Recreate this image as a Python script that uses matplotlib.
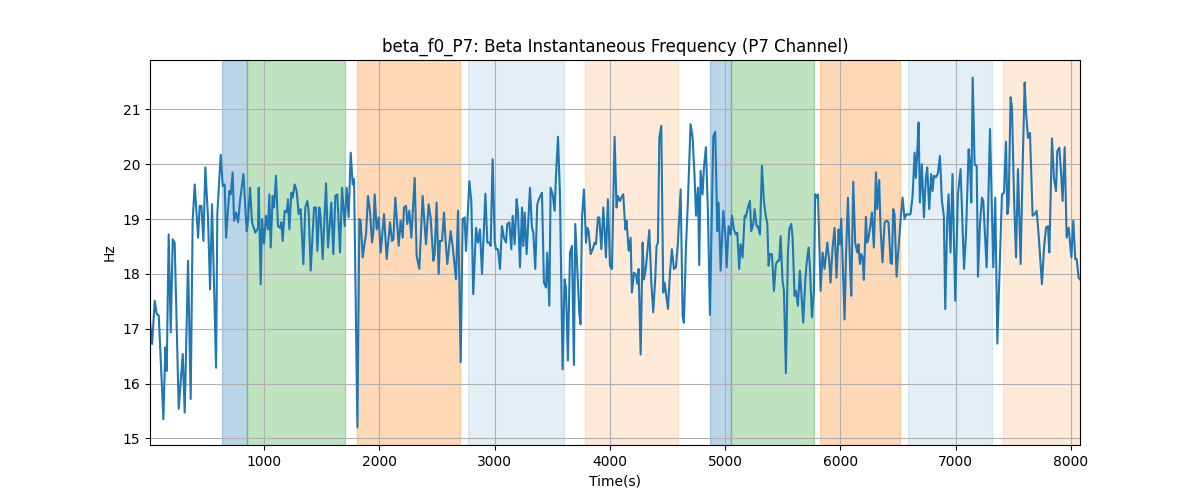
import matplotlib
matplotlib.use("Agg")
import matplotlib.pyplot as plt
import numpy as np

time_s = [
    11, 29, 52, 69, 87, 104, 127, 144, 156, 173, 191, 208, 225, 260, 295, 312, 341, 364, 381, 399,
    428, 442, 457, 474, 491, 514, 532, 549, 584, 595, 624, 642, 659, 671, 699, 711, 728, 740, 757, 775,
    792, 821, 850, 861, 879, 896, 925, 948, 954, 971, 983, 1000,
    1017, 1035, 1046, 1058, 1075, 1087, 1104, 1121, 1139, 1150, 1162, 1179, 1197, 1208, 1220, 1237, 1249, 1266,
    1283, 1301, 1318, 1341, 1358, 1376, 1387, 1405, 1434, 1451, 1463, 1480, 1491, 1509, 1538, 1555, 1584, 1601,
    1619, 1636, 1659, 1677, 1700, 1717, 1734, 1752, 1769, 1781, 1810, 1827, 1838, 1856, 1873, 1885, 1902, 1919,
    1937, 1948, 1960, 1977, 1995, 2012,
    2041, 2064, 2093, 2110, 2122, 2139, 2168, 2185, 2203, 2214, 2232, 2243, 2260, 2278, 2307, 2324, 2347, 2376,
    2405, 2428, 2445, 2469, 2480, 2497, 2515, 2526, 2544, 2561, 2573, 2590, 2619, 2636, 2665, 2683, 2706, 2723,
    2740, 2752, 2781, 2798, 2815, 2839, 2856, 2873, 2891, 2920, 2937, 2954, 2966, 2983, 3001, 3012,
    3029, 3047, 3064, 3081, 3099, 3110, 3128, 3145, 3157, 3174, 3191, 3203, 3220, 3238, 3249, 3261, 3278, 3307,
    3324, 3336, 3353, 3370, 3390, 3411, 3428, 3446, 3457, 3475, 3486, 3504, 3521, 3532, 3550, 3567, 3590, 3607,
    3619, 3636, 3654, 3671, 3688, 3700, 3717, 3735, 3746, 3758, 3775, 3793, 3804, 3816, 3833, 3851, 3868, 3879,
    3897, 3908, 3926, 3943, 3966, 3983, 4001, 4018, 4041,
    4058, 4070, 4087, 4099, 4116, 4134, 4145, 4163, 4180, 4191, 4209, 4226, 4238, 4249, 4267, 4284, 4296, 4313,
    4342, 4359, 4376, 4394, 4405, 4417, 4429, 4446, 4463, 4475, 4486, 4504, 4521, 4538, 4556, 4573, 4590, 4614,
    4631, 4642, 4660, 4677, 4700, 4718, 4735, 4747, 4764, 4775, 4787, 4804, 4816, 4833, 4851, 4868, 4885, 4897,
    4914, 4932, 4943, 4961, 4984, 5001, 5013, 5030,
    5047, 5059, 5076, 5093, 5105, 5122, 5134, 5151, 5169, 5180, 5197, 5215, 5226, 5244, 5255, 5273, 5284, 5302,
    5319, 5336, 5354, 5365, 5377, 5388, 5406, 5423, 5440, 5458, 5469, 5481, 5498, 5510, 5527, 5544, 5556, 5573,
    5585, 5602, 5614, 5631, 5648, 5660, 5677, 5695, 5706, 5724, 5735, 5753, 5770, 5781, 5793, 5805, 5828, 5845,
    5862, 5886, 5903, 5914, 5932, 5949, 5966, 5984, 5995, 6007, 6024, 6036,
    6047, 6065, 6082, 6094, 6111, 6128, 6146, 6157, 6169, 6180, 6192, 6203, 6221, 6232, 6244, 6261, 6273, 6290,
    6308, 6319, 6336, 6348, 6365, 6383, 6400, 6417, 6435, 6446, 6458, 6469, 6487, 6504, 6521, 6539, 6556, 6573,
    6591, 6608, 6626, 6643, 6654, 6666, 6678, 6689, 6706, 6724, 6741, 6753, 6770, 6787, 6799, 6811, 6828, 6845,
    6863, 6880, 6897, 6909, 6926, 6938, 6955, 6972, 6996, 7019, 7042,
    7072, 7089, 7112, 7124, 7135, 7147, 7164, 7182, 7193, 7210, 7228, 7239, 7268, 7280, 7297, 7315, 7326, 7343,
    7361, 7378, 7401, 7419, 7436, 7448, 7459, 7476, 7488, 7505, 7523, 7540, 7563, 7581, 7598, 7609, 7627, 7644,
    7656, 7667, 7685, 7702, 7719, 7748, 7766, 7783, 7800, 7812, 7835, 7852, 7870, 7881, 7899, 7916, 7927, 7945,
    7962, 7980, 8003, 8020, 8037, 8049, 8066, 8078,
]

beta_hz = [
    17.14, 16.72, 17.51, 17.27, 17.24, 16.42, 15.35, 16.66, 16.23, 18.72, 16.93, 18.63, 18.57, 15.54, 16.54, 15.47, 18.24, 15.72, 18.97, 19.63,
    18.66, 19.24, 19.24, 18.60, 19.94, 19.03, 17.72, 19.27, 16.29, 19.09, 20.17, 19.60, 19.63, 18.66, 19.51, 19.45, 19.85, 18.97, 19.12, 18.94,
    19.33, 19.82, 18.78, 18.97, 19.57, 18.94, 18.75, 18.84, 19.57, 17.81, 19.00, 18.55,
    19.06, 18.81, 19.45, 18.48, 19.42, 19.21, 19.79, 18.87, 18.84, 18.94, 18.60, 19.15, 19.12, 19.36, 18.81, 19.48, 19.39, 19.63,
    19.51, 19.09, 19.18, 18.18, 19.21, 19.33, 19.15, 18.06, 19.21, 19.21, 18.42, 19.21, 19.03, 18.27, 19.65, 18.48, 19.30, 18.36,
    19.42, 19.45, 18.39, 19.57, 18.87, 19.57, 19.03, 20.21, 19.63, 19.73, 15.20, 19.00, 18.97, 18.30, 18.57, 18.72, 19.42, 19.15,
    18.57, 18.75, 19.45, 18.81, 19.03, 18.39,
    19.09, 18.27, 18.94, 18.60, 18.63, 19.39, 18.51, 18.97, 18.66, 19.21, 19.24, 18.91, 19.15, 18.66, 19.75, 18.33, 18.09, 19.42,
    18.54, 19.27, 19.03, 18.24, 18.36, 19.30, 18.00, 18.60, 18.60, 19.12, 18.66, 18.18, 18.78, 18.51, 17.90, 19.15, 16.39, 19.00,
    19.03, 18.42, 19.69, 19.33, 17.63, 18.84, 18.57, 18.81, 18.00, 19.46, 18.57, 18.57, 18.51, 20.09, 18.60, 18.45,
    18.45, 18.09, 18.87, 18.66, 18.57, 18.91, 18.94, 18.45, 19.06, 18.54, 19.36, 19.12, 18.12, 19.21, 18.51, 19.12, 18.36, 19.57,
    18.84, 18.75, 18.09, 19.27, 19.39, 19.48, 17.84, 17.75, 18.39, 17.42, 19.57, 19.45, 19.15, 19.76, 20.50, 19.45, 16.26, 17.90,
    17.75, 16.42, 18.39, 18.51, 16.34, 18.91, 18.12, 17.27, 17.08, 19.03, 19.54, 18.57, 18.84, 18.78, 18.36, 18.45, 18.57, 18.54,
    19.03, 19.03, 18.45, 19.21, 18.30, 19.36, 18.15, 18.09, 20.50,
    19.21, 19.42, 19.33, 19.39, 19.45, 18.81, 18.97, 18.42, 18.66, 17.66, 18.02, 17.99, 17.82, 18.09, 16.53, 18.57, 17.90, 18.12,
    18.80, 17.87, 17.30, 17.93, 18.51, 18.57, 20.48, 20.70, 17.66, 17.84, 17.66, 17.36, 18.00, 18.45, 18.09, 18.12, 18.57, 19.54,
    17.24, 17.11, 18.48, 19.33, 20.73, 20.48, 19.76, 19.06, 19.57, 18.16, 19.88, 19.45, 19.94, 20.31, 19.09, 17.25, 19.15, 20.51,
    20.59, 18.78, 19.30, 18.06, 19.15, 18.72, 18.12, 18.87,
    18.72, 19.06, 18.81, 18.72, 18.75, 18.09, 18.54, 18.30, 19.06, 19.03, 19.21, 19.33, 18.78, 18.91, 19.18, 18.87, 18.87, 18.72,
    19.97, 19.33, 19.03, 18.94, 18.15, 18.36, 18.36, 17.69, 18.18, 18.24, 18.24, 18.69, 17.87, 17.69, 16.19, 18.36, 18.81, 18.91,
    18.66, 17.60, 17.69, 17.42, 18.06, 17.69, 17.11, 17.87, 18.18, 18.48, 18.12, 17.21, 17.69, 19.45, 19.39, 19.45, 17.69, 18.39,
    18.09, 18.57, 18.24, 17.84, 18.48, 18.84, 17.93, 18.81, 18.54, 19.00, 17.93, 17.17,
    18.24, 19.39, 18.24, 17.60, 19.68, 18.57, 18.39, 18.54, 18.18, 18.36, 18.30, 17.89, 19.04, 18.57, 18.66, 18.91, 19.12, 18.48,
    19.85, 19.18, 19.71, 18.84, 18.21, 18.94, 18.97, 18.94, 18.21, 18.18, 19.18, 19.09, 17.95, 18.48, 18.97, 19.39, 19.00, 19.09,
    19.08, 19.09, 19.42, 20.21, 19.75, 20.21, 20.76, 19.30, 20.00, 19.03, 19.75, 19.94, 19.18, 19.82, 19.51, 19.79, 19.76, 19.83,
    20.15, 19.33, 19.06, 17.36, 18.97, 19.45, 18.39, 19.82, 17.51, 19.45, 19.91,
    18.09, 18.72, 20.27, 19.97, 19.30, 21.58, 19.99, 19.97, 17.95, 18.91, 19.39, 19.33, 18.12, 19.09, 20.64, 19.03, 18.12, 19.39,
    16.73, 17.87, 19.45, 19.48, 20.41, 19.09, 19.27, 21.22, 21.03, 19.45, 18.30, 19.91, 18.18, 20.00, 21.49, 20.97, 20.48, 20.57,
    19.75, 19.06, 19.09, 19.15, 18.72, 17.81, 18.48, 18.84, 18.87, 18.39, 20.47, 19.75, 19.51, 20.24, 20.30, 19.76, 19.33, 20.31,
    18.66, 18.84, 18.30, 18.97, 18.27, 18.27, 17.93, 17.90,
]

span_starts = [636, 852, 1806, 2769, 3784, 4868, 5050, 5822, 6586, 7410]
span_ends = [852, 1702, 2700, 3602, 4591, 5050, 5770, 6516, 7314, 8078]
span_colors = ["tab:blue", "tab:green", "tab:orange", "tab:blue", "tab:orange",
               "tab:blue", "tab:green", "tab:orange", "tab:blue", "tab:orange"]
span_alphas = [0.3, 0.3, 0.3, 0.12, 0.16, 0.3, 0.3, 0.3, 0.12, 0.16]

t = np.array(time_s, dtype=float)
v = np.array(beta_hz, dtype=float)

fig, ax = plt.subplots(figsize=(12, 5), dpi=100)
for s, e, c, a in zip(span_starts, span_ends, span_colors, span_alphas):
    ax.axvspan(s, e, color=c, alpha=a)
ax.plot(t, v, color="tab:blue", linewidth=1.5)
ax.set_xlim(t.min(), t.max())
ax.grid(True)
ax.set_title("beta_f0_P7: Beta Instantaneous Frequency (P7 Channel)")
ax.set_xlabel("Time(s)")
ax.set_ylabel("Hz")
fig.savefig("out.png")
